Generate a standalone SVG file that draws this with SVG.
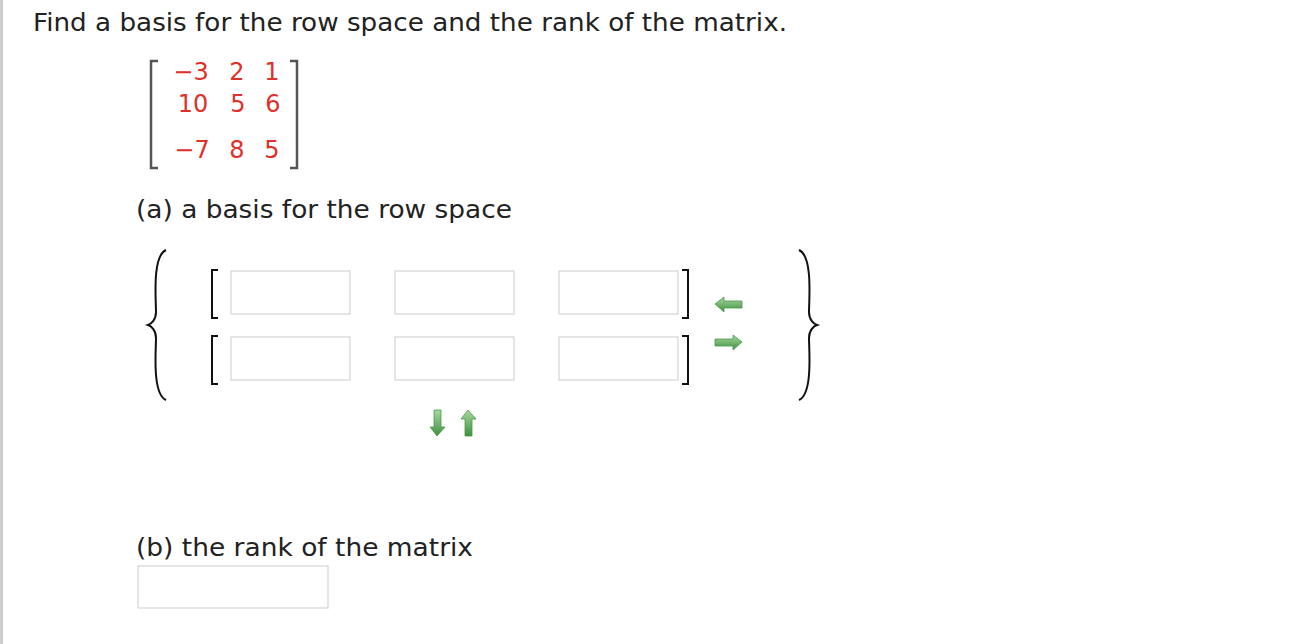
<svg xmlns="http://www.w3.org/2000/svg" width="1292" height="644" viewBox="0 0 1292 644">
<defs>
<linearGradient id="g" x1="0" y1="0" x2="0" y2="1"><stop offset="0" stop-color="#a8d8a0"/><stop offset="1" stop-color="#3f8f3f"/></linearGradient>
<style>
.t{font-family:"DejaVu Sans",Verdana,sans-serif;font-size:25px;fill:#222}
.m{font-family:"DejaVu Sans",Verdana,sans-serif;font-size:24px;fill:#e0302a;text-anchor:middle}
.b{fill:#fff;stroke:#d4d4d4;stroke-width:1.2}
.br{fill:none;stroke:#111;stroke-width:2}
.mb{fill:none;stroke:#555;stroke-width:2.5}
.ar{fill:url(#g);stroke:#4a9a4a;stroke-width:0.8}
</style>
</defs>
<rect width="1292" height="644" fill="#fff"/>
<line x1="1.5" y1="0" x2="1.5" y2="644" stroke="#ccc" stroke-width="3"/>
<text class="t" x="33" y="31" textLength="754" lengthAdjust="spacingAndGlyphs">Find a basis for the row space and the rank of the matrix.</text>
<g id="matrix">
<path class="mb" d="M158,61 H151 V168 H158"/>
<path class="mb" d="M290,61 H297 V168 H290"/>
<text class="m" x="191" y="80">−3</text><text class="m" x="237" y="80">2</text><text class="m" x="272" y="80">1</text>
<text class="m" x="193" y="112">10</text><text class="m" x="238" y="112">5</text><text class="m" x="273" y="112">6</text>
<text class="m" x="192" y="158">−7</text><text class="m" x="237" y="158">8</text><text class="m" x="272" y="158">5</text>
</g>
<text class="t" x="136" y="218" textLength="376" lengthAdjust="spacingAndGlyphs">(a) a basis for the row space</text>
<g id="basis">
<path class="br" d="M166,250 C152,256 156,300 156,312 C156,320 151,324 148,325 C151,326 156,330 156,338 C156,350 152,394 166,400" stroke-width="2.2"/>
<path class="br" d="M799,250 C813,256 809,300 809,312 C809,320 814,324 817,325 C814,326 809,330 809,338 C809,350 813,394 799,400" stroke-width="2.2"/>
<path class="br" d="M218,270 H212 V318 H218"/>
<path class="br" d="M218,336 H212 V384 H218"/>
<path class="br" d="M682,270 H688 V318 H682"/>
<path class="br" d="M682,336 H688 V384 H682"/>
<rect class="b" x="231" y="271" width="119" height="43"/>
<rect class="b" x="395" y="271" width="119" height="43"/>
<rect class="b" x="559" y="271" width="119" height="43"/>
<rect class="b" x="231" y="337" width="119" height="43"/>
<rect class="b" x="395" y="337" width="119" height="43"/>
<rect class="b" x="559" y="337" width="119" height="43"/>
<path class="ar" d="M715,304 L724,297 V301 H742 V308 H724 V312 Z"/>
<path class="ar" d="M742,342 L733,335 V339 H715 V346 H733 V350 Z"/>
<path class="ar" d="M437,436 L430,427 H434 V410 H441 V427 H445 Z"/>
<path class="ar" d="M468,410 L461,419 H465 V436 H472 V419 H476 Z"/>
</g>
<text class="t" x="136" y="556" textLength="337" lengthAdjust="spacingAndGlyphs">(b) the rank of the matrix</text>
<rect class="b" x="138" y="566" width="190" height="42"/>
</svg>
